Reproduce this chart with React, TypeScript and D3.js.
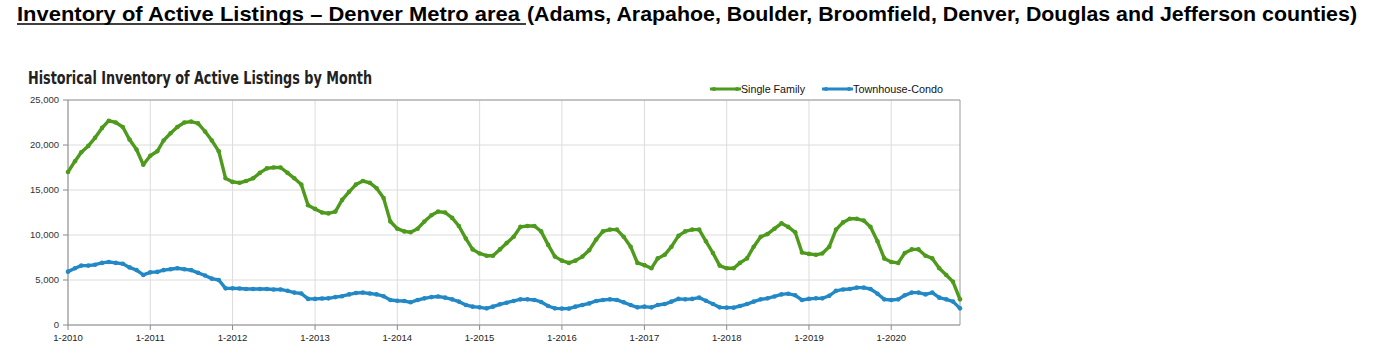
import React from "react";
import * as d3 from "d3";

// ---- Data (Jan 2010 .. Nov 2020, monthly) ----
const startDate = new Date(2010, 0, 1);
const singleFamily: number[] = [
  // 2010
  17000, 18200, 19200, 19900, 20800, 21900, 22700, 22500, 22000, 20600, 19500, 17800,
  // 2011
  18800, 19300, 20500, 21300, 22000, 22500, 22600, 22400, 21500, 20500, 19300, 16300,
  // 2012
  15900, 15800, 16000, 16300, 16900, 17400, 17500, 17500, 16900, 16300, 15600, 13300,
  // 2013
  12900, 12500, 12400, 12600, 13900, 14800, 15600, 16000, 15800, 15200, 14100, 11500,
  // 2014
  10700, 10400, 10300, 10700, 11500, 12200, 12600, 12500, 11900, 11000, 9600, 8400,
  // 2015
  7950, 7700, 7700, 8400, 9100, 9800, 10900, 11000, 11000, 10400, 8900, 7600,
  // 2016
  7150, 6900, 7150, 7600, 8300, 9500, 10400, 10600, 10600, 9800, 8700, 6900,
  // 2017
  6650, 6300, 7400, 7800, 8700, 9900, 10400, 10600, 10600, 9300, 8000, 6600,
  // 2018
  6300, 6300, 6900, 7400, 8700, 9800, 10100, 10700, 11300, 10900, 10300, 8050,
  // 2019
  7900, 7800, 7950, 8700, 10600, 11400, 11800, 11800, 11600, 10900, 9300, 7400,
  // 2020
  7000, 6900, 8000, 8400, 8400, 7700, 7400, 6300, 5550, 4800, 2850,
];
const townhouseCondo: number[] = [
  // 2010
  5930, 6300, 6600, 6600, 6700, 6900, 7000, 6900, 6800, 6400, 6100, 5560,
  // 2011
  5850, 5900, 6100, 6200, 6300, 6200, 6100, 5800, 5500, 5150, 5000, 4070,
  // 2012
  4070, 4050, 4000, 4000, 4000, 4000, 3950, 3950, 3800, 3600, 3500, 2900,
  // 2013
  2900, 2950, 2960, 3100, 3200, 3400, 3550, 3600, 3500, 3400, 3200, 2780,
  // 2014
  2700, 2670, 2520, 2780, 2960, 3100, 3170, 3040, 2850, 2600, 2220, 2040,
  // 2015
  1960, 1850, 2040, 2300, 2480, 2670, 2850, 2850, 2780, 2560, 2110, 1850,
  // 2016
  1820, 1820, 2040, 2220, 2400, 2670, 2780, 2850, 2780, 2520, 2220, 1960,
  // 2017
  2040, 1960, 2220, 2330, 2600, 2900, 2850, 2900, 3040, 2700, 2330, 1960,
  // 2018
  1930, 1930, 2110, 2330, 2600, 2850, 2960, 3170, 3400, 3480, 3300, 2780,
  // 2019
  2900, 2960, 2960, 3250, 3800, 3950, 4000, 4150, 4150, 4000, 3480, 2850,
  // 2020
  2780, 2850, 3300, 3600, 3600, 3400, 3600, 3040, 2850, 2600, 1850,
];
const yTicks: number[] = [0, 5000, 10000, 15000, 20000, 25000];
const xTickYears: number[] = [2010, 2011, 2012, 2013, 2014, 2015, 2016, 2017, 2018, 2019, 2020];
const seriesNames: string[] = ["Single Family", "Townhouse-Condo"];
const seriesColors: string[] = ["#4d9a1c", "#2388c6"];

const titleUnderlined = "Inventory of Active Listings \u2013 Denver Metro area";
const titleRest = "(Adams, Arapahoe, Boulder, Broomfield, Denver, Douglas and Jefferson counties)";
const chartTitle = "Historical Inventory of Active Listings by Month";

export default function App() {
  const W = 1379, H = 360;
  const left = 68, right = 960, top = 100, bottom = 325;
  const dates = singleFamily.map((_, i) => d3.timeMonth.offset(startDate, i));
  const x = d3.scaleTime().domain([dates[0], dates[dates.length - 1]]).range([left, right]);
  const y = d3.scaleLinear().domain([0, 25000]).range([bottom, top]);
  const series = [singleFamily, townhouseCondo];
  const line = d3
    .line<number>()
    .x((_, i) => x(dates[i]))
    .y((v) => y(v));
  const font = "'Liberation Sans', Arial, Helvetica, sans-serif";
  const fmt = d3.format(",");
  const legendX = [710, 822];
  const legendTextLen = [64, 90];

  return (
    <div style={{ position: "absolute", left: 0, top: 0 }}>
      <svg width={W} height={H} style={{ display: "block", background: "#fff" }} fontFamily={font}>
        {/* main title */}
        <text x={17} y={21} fontSize={20.5} fontWeight="bold" fill="#000" textLength={503} lengthAdjust="spacingAndGlyphs">
          {titleUnderlined}
        </text>
        <line x1={17} x2={526} y1={24} y2={24} stroke="#000" strokeWidth={1.6} />
        <text x={527} y={21} fontSize={20.5} fontWeight="bold" fill="#000" textLength={830} lengthAdjust="spacingAndGlyphs">
          {titleRest}
        </text>

        {/* chart title */}
        <text
          x={28}
          y={84}
          fontSize={17}
          fontWeight="bold"
          fill="#222"
          fontFamily="'Liberation Sans Narrow', 'DejaVu Sans Condensed', Arial, sans-serif"
          textLength={344}
          lengthAdjust="spacingAndGlyphs"
        >
          {chartTitle}
        </text>

        {/* legend */}
        {seriesNames.map((name, i) => {
          const lx = legendX[i];
          return (
            <g key={name}>
              <line x1={lx} x2={lx + 31} y1={89} y2={89} stroke={seriesColors[i]} strokeWidth={3} />
              <circle cx={lx + 4} cy={89} r={2} fill={seriesColors[i]} />
              <circle cx={lx + 27} cy={89} r={2} fill={seriesColors[i]} />
              <text
                x={lx + 31}
                y={92.8}
                fontSize={10.5}
                fill="#111"
                textLength={legendTextLen[i]}
                lengthAdjust="spacingAndGlyphs"
              >
                {name}
              </text>
            </g>
          );
        })}

        {/* grid */}
        {yTicks.map((t) => (
          <line key={"gy" + t} x1={left} x2={right} y1={y(t)} y2={y(t)} stroke="#dcdcdc" strokeWidth={1} />
        ))}
        {xTickYears.map((yr) => (
          <line
            key={"gx" + yr}
            x1={x(new Date(yr, 0, 1))}
            x2={x(new Date(yr, 0, 1))}
            y1={top}
            y2={bottom}
            stroke="#dcdcdc"
            strokeWidth={1}
          />
        ))}

        {/* border */}
        <line x1={left} x2={right} y1={top} y2={top} stroke="#9a9a9a" strokeWidth={1} />
        <line x1={right} x2={right} y1={top} y2={bottom} stroke="#9a9a9a" strokeWidth={1} />
        <line x1={left} x2={left} y1={top} y2={bottom} stroke="#8a8a8a" strokeWidth={1} />
        <line x1={left} x2={right} y1={bottom} y2={bottom} stroke="#8a8a8a" strokeWidth={1} />

        {/* y axis */}
        {yTicks.map((t) => (
          <g key={"yt" + t}>
            <line x1={left - 5} x2={left} y1={y(t)} y2={y(t)} stroke="#8a8a8a" />
            <text x={59} y={y(t) + 3.3} fontSize={9.5} textAnchor="end" fill="#333">
              {fmt(t)}
            </text>
          </g>
        ))}

        {/* x axis */}
        {xTickYears.map((yr) => {
          const xx = x(new Date(yr, 0, 1));
          return (
            <g key={"xt" + yr}>
              <line x1={xx} x2={xx} y1={bottom} y2={bottom + 5} stroke="#8a8a8a" />
              <text x={xx} y={341} fontSize={9.5} textAnchor="middle" fill="#222">
                {"1-" + yr}
              </text>
            </g>
          );
        })}

        {/* series */}
        {series.map((s, si) => (
          <g key={"s" + si}>
            <path d={line(s) || ""} fill="none" stroke={seriesColors[si]} strokeWidth={3.4} strokeLinejoin="round" />
            {s.map((v, i) => (
              <circle key={i} cx={x(dates[i])} cy={y(v)} r={2.3} fill={seriesColors[si]} />
            ))}
          </g>
        ))}
      </svg>
    </div>
  );
}
